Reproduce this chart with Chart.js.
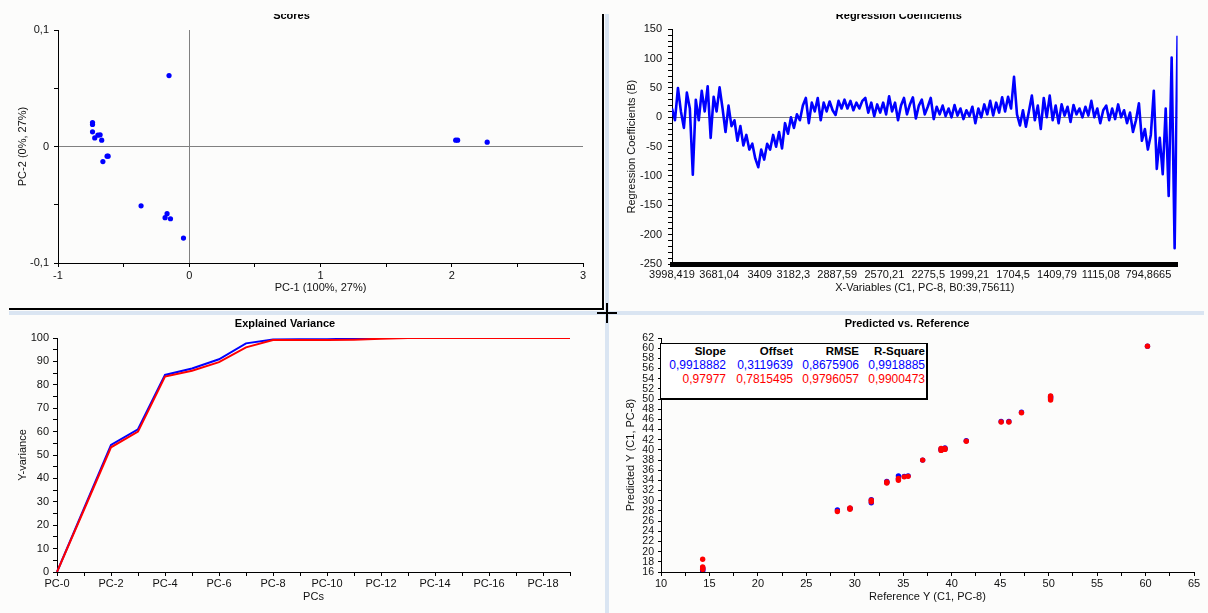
<!DOCTYPE html>
<html>
<head>
<meta charset="utf-8">
<script src="https://cdn.jsdelivr.net/npm/chart.js@4.4.1/dist/chart.umd.min.js"></script>
<style>
  body { margin: 0; width: 1208px; height: 613px; overflow: hidden; position: relative; background: #fcfcfb; font-family: "Liberation Sans", Arial, sans-serif; }
  canvas { position: absolute; display: block; }
  .bar { position: absolute; }
  #stats { position: absolute; left: 660px; top: 343px; width: 265px; height: 54px; border: 1px solid #000; border-right-width: 2px; border-bottom-width: 2px; background: #fff; z-index: 2; }
  #stats table { border-collapse: collapse; }
  #stats td { height: 14px; padding: 0; text-align: right; line-height: 14px; white-space: nowrap; font-size: 12px; }
  #stats tr.head td { font-weight: bold; font-size: 11.5px; color: #000; }
</style>
</head>
<body>
<canvas id="scores" width="604" height="308" style="left:0;top:0"></canvas>
<canvas id="coef" width="588" height="308" style="left:620px;top:0"></canvas>
<canvas id="variance" width="604" height="297" style="left:0;top:316px"></canvas>
<canvas id="predref" width="588" height="297" style="left:620px;top:316px"></canvas>
<div id="stats"><table id="statTable"></table></div>

<div class="bar" style="left:0;top:0;width:1208px;height:14px;background:#fcfcfb;z-index:3"></div>
<div class="bar" style="left:605px;top:14px;width:4px;height:599px;background:#dae5f2;z-index:3"></div>
<div class="bar" style="left:9px;top:311px;width:1195px;height:4px;background:#dae5f2;z-index:3"></div>
<div class="bar" style="left:602px;top:14px;width:2px;height:296px;background:#000;z-index:4"></div>
<div class="bar" style="left:9px;top:308px;width:595px;height:2px;background:#000;z-index:4"></div>
<div class="bar" style="left:597px;top:312px;width:20px;height:2px;background:#000;z-index:5"></div>
<div class="bar" style="left:606px;top:303px;width:2px;height:20px;background:#000;z-index:5"></div>

<script>
// scores plot, PC-1 / PC-2
const scoreX = [-0.154, -0.737, -0.737, -0.737, -0.72, -0.696, -0.679, -0.667, -0.658, -0.626, -0.618, -0.367, -0.169, -0.184, -0.143, -0.044, 2.03, 2.045, 2.27];
const scoreY = [0.0609, 0.0206, 0.0189, 0.0126, 0.0074, 0.0097, 0.01, 0.0054, -0.0129, -0.0083, -0.0083, -0.0509, -0.0577, -0.0611, -0.062, -0.0786, 0.0054, 0.0054, 0.0037];

// regression coefficients, one value every regStep cm-1 from regStart down
const regStart = 3998.419;
const regStep = 20;
const regCoef = [
  15, -5, 50, 10, -18, 42, 15, -98, 30, -5, 45,
  10, 53, -35, 35, 10, 51, 15, -25, 20, -15,
  -5, -40, -15, -48, -30, -55, -45, -70, -85, -55,
  -72, -45, -55, -30, -50, -25, -53, -10, -28, 0,
  -18, 5, -5, 20, 33, -10, 25, 10, 33, -5,
  25, 10, 27, 12, 4, 28, 15, 30, 15, 28,
  12, 25, 15, 28, 33, 8, 25, 2, 22, 8,
  25, 5, 36, 10, 25, -5, 20, 33, 5, 22,
  34, -2, 20, 30, 5, 18, 33, -3, 18, 5,
  20, 2, 15, 0, 21, 3, 15, -3, 12, 2,
  18, -10, 15, 0, 22, 5, 28, 3, 25, 8,
  34, 10, 35, 15, 69, 5, -14, 12, -16, 10,
  37, -5, 20, -20, 33, 0, 37, -5, 20, -10,
  22, 3, 18, -8, 21, 5, 15, 0, 18, 3,
  28, 0, 15, -10, 12, 20, -5, 15, -3, 22,
  0, 12, -10, 8, -25, -5, 24, -40, -20, -55,
  -30, 45, -88, -35, -97, 15, -134, 102, -223, 139
];
const regTicks = [3998.419, 3681.04, 3409, 3182.3, 2887.59, 2570.21, 2275.5, 1999.21, 1704.5, 1409.79, 1115.08, 794.8665];

// explained variance
const pcLabels = ['PC-0', 'PC-1', 'PC-2', 'PC-3', 'PC-4', 'PC-5', 'PC-6', 'PC-7', 'PC-8', 'PC-9',
  'PC-10', 'PC-11', 'PC-12', 'PC-13', 'PC-14', 'PC-15', 'PC-16', 'PC-17', 'PC-18', 'PC-19'];
const calVar = [0, 27.2, 54.3, 61, 84.2, 87, 90.9, 97.7, 99.4, 99.5, 99.5, 99.7, 100, 100, 100, 100, 100, 100, 100, 100];
const valVar = [0, 26.6, 53.3, 60, 83.5, 86, 89.7, 96, 99.1, 99.1, 99.1, 99.3, 99.7, 100, 100, 100, 100, 100, 100, 100];

// predicted vs reference
const refY = [14.3, 14.3, 14.3, 14.3, 28.2, 29.5, 29.5, 31.7, 31.7, 33.3, 33.3, 34.5, 34.5, 35.1, 35.5, 37.0, 38.9, 38.9, 39.3, 39.3, 41.5, 45.1, 45.9, 47.2, 50.2, 50.2, 50.2, 60.2];
const predCal = [16.6, 16.4, 16.2, 16.8, 28.2, 28.5, 28.5, 29.6, 30.2, 33.6, 33.8, 34.9, 34.3, 34.8, 34.9, 38.0, 40.0, 40.2, 40.4, 40.2, 41.8, 45.6, 45.6, 47.4, 50.5, 50.3, 50.0, 60.4];
const predVal = [18.5, 17.0, 16.8, 16.5, 27.9, 28.35, 28.6, 29.8, 30.1, 33.5, 33.7, 34.05, 34.4, 34.7, 34.8, 38.0, 39.9, 40.3, 40.1, 40.3, 41.7, 45.5, 45.5, 47.3, 50.6, 50.2, 49.8, 60.4];
const statNames = ['Slope', 'Offset', 'RMSE', 'R-Square'];
const statCal = ['0,9918882', '0,3119639', '0,8675906', '0,9918885'];
const statVal = ['0,97977', '0,7815495', '0,9796057', '0,9900473'];

Chart.defaults.font.family = '"Liberation Sans", Arial, sans-serif';
Chart.defaults.font.size = 11;
Chart.defaults.color = '#111';
Chart.defaults.animation = false;
Chart.defaults.plugins.legend.display = false;
Chart.defaults.plugins.tooltip.enabled = false;

const comma = v => String(v).replace('.', ',');

// force axis box sizes so the plot areas land where the original ones are
function fitTo(w, h) {
  return function(scale) {
    if (w != null) scale.width = w;
    if (h != null) scale.height = h;
    scale.paddingLeft = scale.paddingRight = scale.paddingTop = scale.paddingBottom = 0;
  };
}

function zeroLine(ctx) {
  return ctx.tick && ctx.tick.value === 0 ? '#808080' : 'rgba(0,0,0,0)';
}

function titleOpts(text, top, bottom) {
  return { display: true, text: text, color: '#000', font: { size: 11, weight: 'bold' }, padding: { top: top, bottom: bottom } };
}

new Chart(document.getElementById('scores'), {
  type: 'scatter',
  data: {
    datasets: [{
      data: scoreX.map((x, i) => ({ x: x, y: scoreY[i] })),
      backgroundColor: '#0000ff',
      borderWidth: 0,
      pointRadius: 2.6
    }]
  },
  options: {
    responsive: false,
    layout: { padding: { top: 0, right: 21, left: 0, bottom: 0 } },
    plugins: { title: titleOpts('Scores', 9.4, 7.4) },
    scales: {
      x: {
        type: 'linear', min: -1, max: 3,
        afterFit: fitTo(null, 45),
        border: { color: '#000' },
        grid: { color: zeroLine, tickColor: '#000', tickLength: 4 },
        ticks: { stepSize: 0.5, padding: 2, maxRotation: 0, autoSkip: false,
          callback: v => Number.isInteger(v) ? String(v) : '' },
        title: { display: true, text: 'PC-1 (100%, 27%)', padding: { top: 0, bottom: 13.4 } }
      },
      y: {
        type: 'linear', min: -0.1, max: 0.1,
        afterFit: fitTo(58, null),
        border: { color: '#000' },
        grid: { color: zeroLine, tickColor: '#000', tickLength: 4 },
        ticks: { stepSize: 0.05, padding: 5, autoSkip: false,
          callback: v => Math.abs(Math.round(v * 100)) % 10 === 0 ? comma(Math.round(v * 10) / 10) : '' },
        title: { display: true, text: 'PC-2 (0%, 27%)', padding: { top: 16.4, bottom: 0 } }
      }
    }
  }
});

new Chart(document.getElementById('coef'), {
  type: 'line',
  data: {
    datasets: [{
      data: regCoef.map((y, i) => ({ x: regStart - i * regStep, y: y })),
      borderColor: '#0000ff',
      borderWidth: 2.6,
      borderJoinStyle: 'round',
      pointRadius: 0,
      tension: 0
    }]
  },
  options: {
    responsive: false,
    layout: { padding: { top: 0, right: 30.4, left: 0, bottom: 0 } },
    plugins: { title: titleOpts('Regression Coefficients', 9.4, 6.7) },
    scales: {
      x: {
        type: 'linear', reverse: true,
        min: regStart - (regCoef.length - 1) * regStep, max: regStart,
        afterFit: fitTo(null, 44),
        afterBuildTicks: scale => { scale.ticks = regTicks.map(v => ({ value: v })); },
        border: { color: '#000', width: 5 },
        grid: { drawOnChartArea: false, tickColor: 'rgba(0,0,0,0)', tickLength: 2 },
        ticks: { padding: 2.5, maxRotation: 0, autoSkip: false, callback: v => comma(v) },
        title: { display: true, text: 'X-Variables (C1, PC-8, B0:39,75611)', padding: { top: 0, bottom: 13.4 } }
      },
      y: {
        type: 'linear', min: -250, max: 150,
        afterFit: fitTo(52, null),
        border: { color: '#000' },
        grid: { color: zeroLine, tickColor: '#000', tickLength: 4 },
        ticks: { stepSize: 10, padding: 6, autoSkip: false,
          callback: v => v % 50 === 0 ? String(v) : '' },
        title: { display: true, text: 'Regression Coefficients (B)', padding: { top: 5.4, bottom: 0 } }
      }
    }
  }
});

new Chart(document.getElementById('variance'), {
  type: 'line',
  data: {
    labels: pcLabels,
    datasets: [
      { data: valVar, borderColor: '#ff0000', borderWidth: 2, pointRadius: 0, order: 1 },
      { data: calVar, borderColor: '#0000ff', borderWidth: 2, pointRadius: 0, order: 2 }
    ]
  },
  options: {
    responsive: false,
    layout: { padding: { top: 0, right: 34, left: 0, bottom: 0 } },
    plugins: { title: titleOpts('Explained Variance', 1.4, 7.4) },
    scales: {
      x: {
        type: 'category', offset: false,
        afterFit: fitTo(null, 41),
        border: { color: '#000' },
        grid: { drawOnChartArea: false, offset: false, tickColor: '#000', tickLength: 4 },
        ticks: { padding: 1.5, maxRotation: 0, autoSkip: false,
          callback: (v, i) => i % 2 === 0 ? pcLabels[i] : '' },
        title: { display: true, text: 'PCs', padding: { top: 0, bottom: 9.4 } }
      },
      y: {
        type: 'linear', min: 0, max: 100,
        afterFit: fitTo(57, null),
        border: { color: '#000' },
        grid: { drawOnChartArea: false, tickColor: '#000', tickLength: 4 },
        ticks: { stepSize: 5, padding: 4, autoSkip: false,
          callback: v => v % 10 === 0 ? String(v) : '' },
        title: { display: true, text: 'Y-variance', padding: { top: 16.4, bottom: 0 } }
      }
    }
  }
});

new Chart(document.getElementById('predref'), {
  type: 'scatter',
  data: {
    datasets: [
      { data: refY.map((x, i) => ({ x: x, y: predVal[i] })), backgroundColor: '#ff0000', borderWidth: 0, pointRadius: 2.7, order: 1 },
      { data: refY.map((x, i) => ({ x: x, y: predCal[i] })), backgroundColor: '#0000ff', borderWidth: 0, pointRadius: 2.7, order: 2 }
    ]
  },
  options: {
    responsive: false,
    layout: { padding: { top: 0, right: 14, left: 0, bottom: 0 } },
    plugins: { title: titleOpts('Predicted vs. Reference', 1.4, 7.4) },
    scales: {
      x: {
        type: 'linear', min: 10, max: 65,
        afterFit: fitTo(null, 41),
        border: { color: '#000' },
        grid: { drawOnChartArea: false, tickColor: '#000', tickLength: 4 },
        ticks: { stepSize: 2.5, padding: 1.5, maxRotation: 0, autoSkip: false,
          callback: v => v % 5 === 0 ? String(v) : '' },
        title: { display: true, text: 'Reference Y (C1, PC-8)', padding: { top: 0, bottom: 9.4 } }
      },
      y: {
        type: 'linear', min: 16, max: 62,
        afterFit: fitTo(41, null),
        border: { color: '#000' },
        grid: { drawOnChartArea: false, tickColor: '#000', tickLength: 3 },
        ticks: { stepSize: 2, padding: 4, autoSkip: false, font: { size: 10.5 } },
        title: { display: true, text: 'Predicted Y (C1, PC-8)', padding: { top: 4.4, bottom: 0 } }
      }
    }
  }
});

// statistics box inside the predicted vs reference plot
const colWidths = [65, 67, 66, 66];
const table = document.getElementById('statTable');
[[statNames, '#000', 'head'], [statCal, '#0000ff', ''], [statVal, '#ff0000', '']].forEach(row => {
  const tr = document.createElement('tr');
  tr.className = row[2];
  row[0].forEach((txt, i) => {
    const td = document.createElement('td');
    td.textContent = txt;
    td.style.width = colWidths[i] + 'px';
    td.style.color = row[1];
    tr.appendChild(td);
  });
  table.appendChild(tr);
});
</script>
</body>
</html>
